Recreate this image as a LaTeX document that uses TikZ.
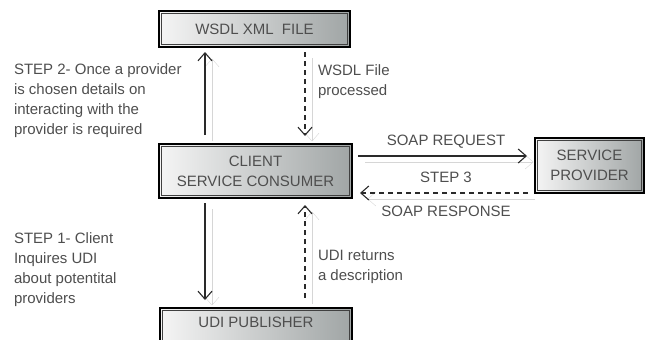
\documentclass[tikz,border=0pt]{standalone}
\usepackage{fontspec}
\setmainfont{Liberation Sans}
\usetikzlibrary{arrows.meta}
\definecolor{txt}{HTML}{4E4E4E}
\definecolor{boxL}{HTML}{F5F5F5}
\definecolor{boxR}{HTML}{A0A5A5}
\definecolor{shad}{HTML}{D6D6D6}
\definecolor{arrc}{HTML}{2A2A2A}
\begin{document}
\begin{tikzpicture}[x=1pt,y=-1pt,
  lbl/.style={inner sep=0pt, outer sep=0pt, align=left, text=txt, font=\fontsize{15}{20}\selectfont},
  clbl/.style={lbl, align=center},
  box/.style={draw=black, line width=2.2pt, left color=boxL, right color=boxR,
    inner sep=0pt, outer sep=0pt, align=center, text=txt, font=\fontsize{15}{20}\selectfont,
    path picture={\draw[black!75, line width=0.6pt]
      ([shift={(2.6pt,-2.6pt)}]path picture bounding box.north west) rectangle
      ([shift={(-2.6pt,2.6pt)}]path picture bounding box.south east);}},
  shadowed/.style={preaction={draw=shad, solid, transform canvas={shift={(7pt,-6pt)}}}},
  arr/.style={draw=arrc, line width=1.1pt, -{Straight Barb[length=8pt,width=14pt]}, shadowed},
  darr/.style={arr, dash pattern=on 5pt off 4pt}
]
\useasboundingbox (0,0) rectangle (646,340);
\clip (0,0) rectangle (646,340);

% boxes
\node[box, minimum width=191pt, minimum height=36pt] (wsdl) at (254.5,29) {WSDL XML\ \ FILE};
\node[box, minimum width=193pt, minimum height=54pt] (client) at (255.5,171) {CLIENT\\SERVICE CONSUMER};
\node[box, minimum width=109pt, minimum height=55pt] (provider) at (589.5,165.5) {SERVICE\\PROVIDER};
\node[box, minimum width=192pt, minimum height=44pt, text height=11pt, text depth=16pt] (udi) at (256,330) {UDI PUBLISHER};

% lanes
\coordinate (lx) at (205,0);
\coordinate (rx) at (305,0);
\coordinate (ty) at (0,156);
\coordinate (by) at (0,193);

% connectors
\draw[arr, shorten <=9pt, shorten >=5pt] (client.north -| lx) -- (wsdl.south -| lx);
\draw[darr, shorten <=5pt, shorten >=8pt] (wsdl.south -| rx) -- (client.north -| rx);
\draw[arr, shorten <=5pt, shorten >=8pt] (client.south -| lx) -- (udi.north -| lx);
\draw[darr, shorten <=10pt, shorten >=7pt] (udi.north -| rx) -- (client.south -| rx);
\draw[arr, shorten <=6pt, shorten >=8pt] (client.east |- ty) -- (provider.west |- ty);
\draw[darr, shorten <=7pt, shorten >=8pt] (provider.west |- by) -- (client.east |- by);

% labels
\node[lbl, anchor=west] (s2) at (14,101) {STEP 2- Once a provider\\is chosen details on\\interacting with the\\provider is required};
\node[lbl, anchor=west] (s1) at (14,269.5) {STEP 1- Client\\Inquires UDI\\about potentital\\providers};
\node[lbl, anchor=west] (wp) at (318,81.5) {WSDL File\\processed};
\node[lbl, anchor=west] (ur) at (318,267) {UDI returns\\a description};
\node[clbl] (sreq) at (446,141.5) {SOAP REQUEST};
\node[clbl] (s3) at (446,177) {STEP 3};
\node[clbl] (sres) at (446,211.5) {SOAP RESPONSE};
\end{tikzpicture}
\end{document}
